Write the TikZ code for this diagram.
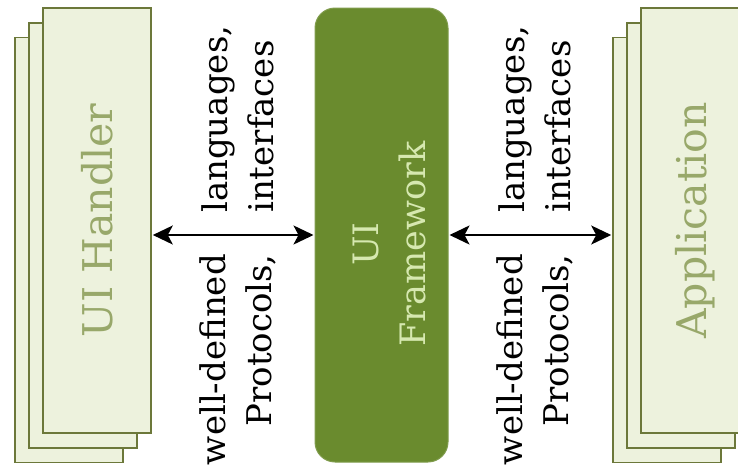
\documentclass[tikz,border=0pt]{standalone}
\usepackage{fontspec}
\setmainfont{DejaVu Serif}
\usetikzlibrary{arrows.meta}

\definecolor{sheetfill}{RGB}{237,242,221}
\definecolor{sheetedge}{RGB}{108,120,58}
\definecolor{sheettext}{RGB}{152,168,106}
\definecolor{corefill}{RGB}{106,139,46}
\definecolor{coretext}{RGB}{214,232,176}

\tikzset{
  sheet/.style={draw=sheetedge, line width=1.6pt, fill=sheetfill,
    minimum width=108pt, minimum height=425pt, inner sep=0pt,
    text=sheettext, font=\fontsize{41}{48}\selectfont},
  core/.style={draw=corefill!85!white, line width=1pt, fill=corefill,
    rounded corners=20pt, minimum width=133pt, minimum height=454pt,
    inner sep=0pt},
  coretitle/.style={rotate=90, inner sep=0pt, align=center, text=coretext,
    font=\fontsize{35}{47}\selectfont},
  link/.style={{Stealth[length=20pt,width=19pt,inset=5pt]}-{Stealth[length=20pt,width=19pt,inset=5pt]},
    line width=2pt, black, shorten <=1pt, shorten >=1pt},
  lbl/.style={rotate=90, inner sep=0pt, font=\fontsize{34}{46}\selectfont}
}

\begin{document}
\begin{tikzpicture}[x=1pt,y=-1pt]
\useasboundingbox[fill=white] (0,0) rectangle (738,469);

% left stack of sheets
\node[sheet] (lb) at (69,250) {};
\node[sheet] (lm) at (83,235.5) {};
\node[sheet] (lf) at (97,220.5) {\rotatebox{90}{UI Handler}};

% right stack of sheets
\node[sheet] (rb) at (667,250) {};
\node[sheet] (rm) at (681,235.5) {};
\node[sheet] (rf) at (695,220.5) {\rotatebox{90}{Application}};

% central framework block and its title
\node[core] (fw) at (381.5,235) {};
\node[coretitle] (fwtitle) at (389,244) {UI\\Framework};

% connectors
\draw[link] (lf.east |- fw.west) -- (fw.west);
\draw[link] (fw.east) -- (rb.west |- fw.east);

% labels on the left connector
\node[lbl, anchor=east, align=right] (ll1) at (238,254) {well-defined\\Protocols,};
\node[lbl, anchor=west, align=left] (ll2) at (238,213) {languages,\\interfaces};

% labels on the right connector
\node[lbl, anchor=east, align=right] (rl1) at (535,254) {well-defined\\Protocols,};
\node[lbl, anchor=west, align=left] (rl2) at (535,213) {languages,\\interfaces};
\end{tikzpicture}
\end{document}
